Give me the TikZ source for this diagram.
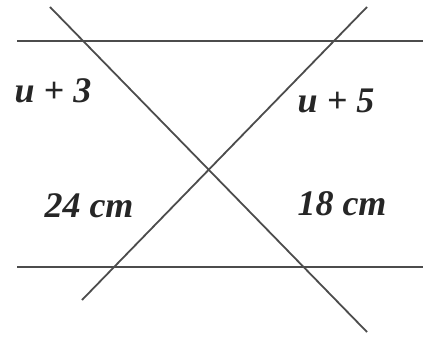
\documentclass[tikz,border=0pt]{standalone}
\usepackage{fontspec}
\setmainfont{Liberation Serif}
\usetikzlibrary{positioning}

\begin{document}
\begin{tikzpicture}[
  x=1pt, y=-1pt,
  edge/.style={draw=black!70, line width=2.3pt},
  lbl/.style={font=\fontsize{36}{40}\selectfont\bfseries\itshape, text=black!85, inner sep=0pt}
]
  \useasboundingbox (0,0) rectangle (423,337);

  % Parallele Geraden
  \coordinate (topL) at (17,41);
  \coordinate (topR) at (423,41);
  \coordinate (botL) at (17,267);
  \coordinate (botR) at (423,267);

  % Schnittgeraden
  \coordinate (aStart) at (50,7);
  \coordinate (aEnd) at (367,332);
  \coordinate (bStart) at (367,7);
  \coordinate (bEnd) at (82,300);

  \draw[edge] (topL) -- (topR);
  \draw[edge] (botL) -- (botR);
  \draw[edge, line width=1.8pt] (aStart) -- (aEnd);
  \draw[edge, line width=1.8pt] (bStart) -- (bEnd);

  % Beschriftungen
  \node[lbl] (ul) at (53,91) {u + 3};
  \node[lbl] (ur) at (336,101) {u + 5};
  \node[lbl] (ll) at (89,206) {24 cm};
  \node[lbl] (lr) at (342,204) {18 cm};
\end{tikzpicture}
\end{document}
